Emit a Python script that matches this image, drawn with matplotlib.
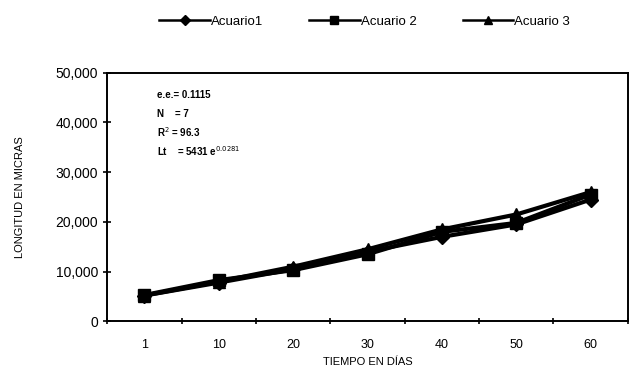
import numpy as np
import matplotlib.pyplot as plt

plt.rcParams['font.family'] = ['Liberation Sans', 'DejaVu Sans']

# datos (longitud en micras)
dias = ['1', '10', '20', '30', '40', '50', '60']
acuario1 = [5200, 7800, 10500, 14000, 17000, 19500, 24500]
acuario2 = [5300, 8300, 10300, 13500, 18000, 19800, 25500]
acuario3 = [5200, 8000, 11000, 14500, 18500, 21500, 26000]

x = np.arange(len(dias))

fig = plt.figure(figsize=(6.31, 3.91), dpi=100)
ax = fig.add_axes([0.170, 0.178, 0.825, 0.636])

ax.plot(x, acuario1, color='black', lw=3, marker='D', ms=7, label='Acuario1')
ax.plot(x, acuario2, color='black', lw=3, marker='s', ms=8, label='Acuario 2')
ax.plot(x, acuario3, color='black', lw=3, marker='^', ms=8, label='Acuario 3')

ax.set_xlim(-0.5, len(dias) - 0.5)
ax.set_ylim(0, 50000)
ax.set_yticks(range(0, 50001, 10000))
ax.set_yticklabels(['{:,}'.format(v) for v in range(0, 50001, 10000)], fontsize=10)
ax.set_xticks(x)
ax.set_xticklabels(dias, fontsize=9)
ax.set_xticks(np.arange(-0.5, len(dias)), minor=True)
ax.tick_params(axis='x', which='major', length=0, pad=13)
ax.tick_params(axis='x', which='minor', length=5, width=1.2, direction='inout')
ax.tick_params(axis='y', length=6, width=1.2, direction='inout')
for s in ax.spines.values():
    s.set_linewidth(1.4)

ax.set_xlabel('TIEMPO EN DÍAS', fontsize=8)
ax.set_ylabel('LONGITUD EN MICRAS', fontsize=8, labelpad=22)

# estadisticos del ajuste
ax.text(0.095, 0.91, 'e.e.= 0.1115', transform=ax.transAxes, fontsize=7, fontweight='bold', va='center')
ax.text(0.095, 0.835, 'N    = 7', transform=ax.transAxes, fontsize=7, fontweight='bold', va='center')
ax.text(0.095, 0.76, 'R$^2$ = 96.3', transform=ax.transAxes, fontsize=7, fontweight='bold', va='center')
ax.text(0.095, 0.685, 'Lt    = 5431 e$^{0.0281}$', transform=ax.transAxes, fontsize=7, fontweight='bold', va='center')

leg = fig.legend(loc='upper center', bbox_to_anchor=(0.578, 0.99), ncol=3, frameon=False,
                 fontsize=9.5, handlelength=3.8, handletextpad=0.1, columnspacing=3.5,
                 markerscale=0.75)
for ln in leg.get_lines():
    ln.set_linewidth(1.8)

fig.savefig('out.png', dpi=100)
